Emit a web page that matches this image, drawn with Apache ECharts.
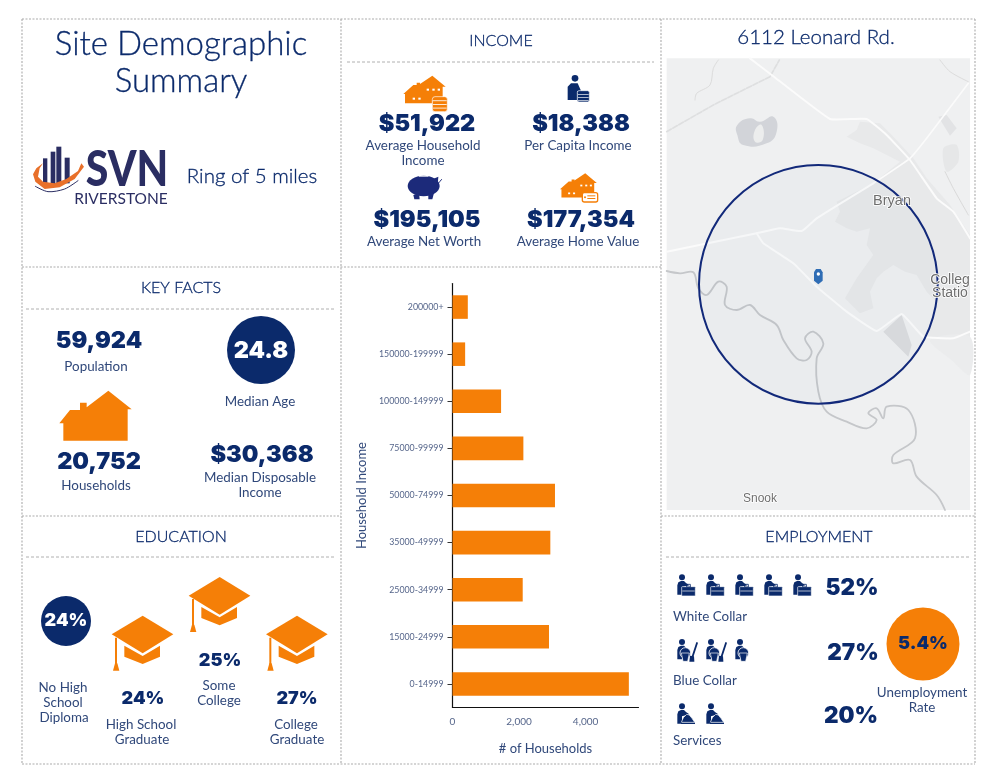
<!DOCTYPE html>
<html><head><meta charset="utf-8">
<style>html,body{margin:0;padding:0;background:#fff}#c{width:1000px;height:773px}</style>
<script src="https://cdn.jsdelivr.net/npm/echarts@6/dist/echarts.min.js"></script>
</head><body><div id="c"></div>
<script>
const incomeBands = ['0-14999','15000-24999','25000-34999','35000-49999','50000-74999','75000-99999','100000-149999','150000-199999','200000+'];
const households = [5300,2900,2110,2940,3080,2130,1460,380,460];
const keyFacts = ['59,924','20,752','24.8','$30,368'];
const incomeStats = ['$51,922','$18,388','$195,105','$177,354'];
const educationShares = ['24%','24%','25%','27%'];
const employmentShares = ['52%','27%','20%','5.4%'];

const NAVY='#0b2a6b', LABEL='#30487a', ORANGE='#f57f07', SANS='Lato', HEAVY='Inter';
const g=[];
const T=(text,x,y,size,o={})=>({type:'text',z:5,silent:true,style:Object.assign({text,x,y,fill:LABEL,fontFamily:SANS,fontSize:size,fontWeight:400,align:'center',verticalAlign:'middle',textAlign:'center',textVerticalAlign:'middle'},o)});
const H=(text,x,y,size,o={})=>T(text,x,y,size,Object.assign({fill:NAVY,fontWeight:300,stroke:NAVY,lineWidth:0.3},o));
const B=(text,x,y,size,o={})=>T(text,x,y,size,Object.assign({fill:NAVY,fontFamily:HEAVY,fontWeight:900},o));
const L=(a,b,c,d,o={})=>({type:'line',z:4,silent:true,shape:{x1:a,y1:b,x2:c,y2:d},style:Object.assign({stroke:'#aaa',lineWidth:1,lineDash:[2,2]},o)});
const poly=(pts,fill,o={},smooth=0)=>({type:'polygon',shape:{points:pts,smooth},style:Object.assign({fill},o)});
const line=(pts,stroke,w,o={})=>({type:'polyline',shape:{points:pts,smooth:o.smooth===undefined?0.3:o.smooth},style:Object.assign({stroke,lineWidth:w,fill:null,lineCap:'round',lineJoin:'round'},o.style||{})});
const circ=(cx,cy,r,fill,o={})=>({type:'circle',shape:{cx,cy,r},style:Object.assign({fill},o)});
const rect=(x,y,width,height,fill,o={},r=0)=>({type:'rect',shape:{x,y,width,height,r},style:Object.assign({fill},o)});
const G=(ox,oy,children,s=1/3)=>({type:'group',x:ox,y:oy,scaleX:s,scaleY:s,z:3,silent:true,children});

// panel outlines
[[22,19,975,19],[22,267,661,267],[22,516,341,516],[661,516,975,516],[22,764,975,764],[22,19,22,764],[341,19,341,764],[661,19,661,764],[975,19,975,764]]
 .forEach(p=>g.push(L(...p,{stroke:'#ababab',lineWidth:1.1,lineDash:[2,1.5]})));
[[347,62,654,62],[26,309,336,309],[26,557,336,557],[666,557,970,557]].forEach(p=>g.push(L(...p,{stroke:'#b0b0b0',lineDash:[3,2]})));

// headings
g.push(H('Site Demographic',181,44,33),H('Summary',181,81,33),H('Ring of 5 miles',252,176,20.5));
g.push(H('INCOME',501,41,16),H('KEY FACTS',181,288,16),H('EDUCATION',181,537,16),H('EMPLOYMENT',819,537,16),H('6112 Leonard Rd.',816,37,20.5));

// logo
const LOGO='#2a2d62';
g.push(G(28,135,[
 rect(45,70,13,75,LOGO),rect(68,50,14,100,LOGO),rect(85,35,15,115,LOGO),rect(110,68,15,77,LOGO),
 poly([[15,118],[22,140],[50,162],[95,157],[140,132],[168,95],[160,85],[150,108],[115,132],[80,145],[45,140],[30,125],[35,100],[45,85],[25,100]],'#e8702a'),
 line([[22,154],[60,170],[110,162],[150,137]],LOGO,3)
]));
g.push({type:'group',x:127,y:170,scaleX:0.82,scaleY:1,z:5,silent:true,children:[T('SVN',0,0,50,{fill:LOGO,fontWeight:900})]});
g.push(T('RIVERSTONE',121,199,15.5,{fill:LOGO}));

// key facts
const B1=23.5, LB=13.4;
g.push(B(keyFacts[0],99,341,B1),T('Population',96,367,LB));
g.push(circ(261,350,34,NAVY),B(keyFacts[2],261,351,23.5,{fill:'#fff'}),T('Median Age',260,402,LB));
g.push(G(20,270,[poly([[118,460],[150,420],[180,420],[180,398],[200,398],[200,412],[265,362],[335,418],[323,418],[323,512],[130,512],[130,460]],ORANGE)]));
g.push(B(keyFacts[1],99,462,B1),T('Households',96,486,LB));
g.push(B(keyFacts[3],262,455,B1),T('Median Disposable',260,478,LB),T('Income',260,493,LB));

// income icons
const housePts=[[175,222],[205,195],[215,195],[215,188],[225,188],[225,192],[262,167],[302,200],[293,200],[293,240],[262,240],[262,250],[180,250],[180,222]];
const dots=[[245,206],[262,206],[278,206],[203,233],[220,233]].map(p=>rect(p[0],p[1],7,6,'#fff'));
g.push(G(345,20,[poly(housePts,ORANGE),...dots,
 rect(262,230,45,45,ORANGE,{stroke:'#fff',lineWidth:2},8),
 ...[241,252,263].map(y=>rect(264,y,41,2.5,'#fff')),
 circ(690,175,10,NAVY),poly([[668,200],[678,190],[698,190],[708,212],[697,214],[697,240],[668,240]],NAVY),
 rect(697,212,36,34,NAVY,{stroke:'#fff',lineWidth:2},5),...[222,231,240].map(y=>rect(699,y,32,2,'#fff')),
 {type:'ellipse',shape:{cx:236,cy:498,rx:48,ry:31},style:{fill:'#1c2a7a'}},
 poly([[205,525],[222,520],[224,538],[208,538]],'#1c2a7a'),poly([[250,520],[268,515],[262,538],[250,538]],'#1c2a7a'),
 poly([[262,478],[280,470],[278,495],[270,505]],'#1c2a7a'),line([[280,490],[290,478]],'#1c2a7a',3),
 rect(222,467,28,3,'#fff')
]));
const houseScale=0.87;
g.push({type:'group',x:345+645/3-175*houseScale/3,y:20+460/3-167*houseScale/3,scaleX:houseScale/3,scaleY:houseScale/3,z:3,silent:true,children:[poly(housePts,ORANGE),...dots]});
g.push(G(345,20,[rect(712,518,46,28,'#fff',{stroke:ORANGE,lineWidth:4},6),rect(727,526,24,3,ORANGE),rect(727,534,24,3,ORANGE),circ(720,532,3,ORANGE)]));
g.push(B(incomeStats[0],427,124,B1),T('Average Household',423,146,LB),T('Income',423,161,LB));
g.push(B(incomeStats[1],581,124,B1),T('Per Capita Income',578,146,LB));
g.push(B(incomeStats[2],427,220,B1),T('Average Net Worth',424,242,LB));
g.push(B(incomeStats[3],581,220,B1),T('Average Home Value',578,242,LB));

// education
g.push(circ(66,621,25,NAVY),B(educationShares[0],66,621,18,{fill:'#fff'}));
const cap=(dx,dy)=>G(20+dx/3,515+dy/3,[
 poly([[368,302],[460,358],[368,415],[275,358]],ORANGE),
 poly([[313,392],[368,423],[420,392],[420,425],[368,447],[313,425]],ORANGE),
 rect(285,368,6,80,ORANGE),poly([[285,445],[292,445],[298,467],[279,467]],ORANGE)
]);
g.push(cap(0,0),cap(231,-116),cap(463,0));
g.push(T('No High',63,688,LB),T('School',63,703,LB),T('Diploma',64,718,LB));
g.push(B(educationShares[1],143,699,18),T('High School',141,725,LB),T('Graduate',142,740,LB));
g.push(B(educationShares[2],220,661,18),T('Some',219,686,LB),T('College',219,701,LB));
g.push(B(educationShares[3],297,699,18),T('College',296,725,LB),T('Graduate',297,740,LB));

// employment icons
const person=(x,y)=>[circ(x+14,y,9,NAVY),poly([[x,y+52],[x,y+24],[x+3,y+15],[x+11,y+11],[x+20,y+11],[x+26,y+17],[x+36,y+24],[x+14,y+30],[x+14,y+52]],NAVY)];
const white=x=>[...person(x,187),rect(x+13,215,41,28,NAVY,{stroke:'#fff',lineWidth:2},2),rect(x+15,227,37,2,'#fff'),rect(x+28,208,11,8,'rgba(0,0,0,0)',{stroke:NAVY,lineWidth:2.5})];
const blue=(x,full)=>[...person(x,381),
  circ(x+24,414,16,NAVY,{stroke:'#fff',lineWidth:2.5}),
  poly([[x+12,414],[x+36,414],[x+31,439],[x+17,439]],NAVY,{stroke:'#fff',lineWidth:2}),
  ...(full?[line([[x+59,384],[x+46,424]],NAVY,5.5,{smooth:0}),poly([[x+38,422],[x+50,424],[x+51,440],[x+36,440]],NAVY)]:[])];
const serv=x=>[...person(x,574),poly([[x+12,622],[x+18,608],[x+28,598],[x+36,600],[x+44,610],[x+52,622]],NAVY,{stroke:'#fff',lineWidth:2}),rect(x+11,623,42,4,NAVY)];
g.push(G(660,515,[...[52,139,226,313,400].flatMap(white),...blue(52,true),...blue(139,true),...blue(226,false),...serv(52),...serv(139)]));
g.push(B(employmentShares[0],852,588,22.5),B(employmentShares[1],853,653,22.5),B(employmentShares[2],851,716,22.5));
g.push(T('White Collar',673,617,LB,{align:'left',textAlign:'left'}),T('Blue Collar',673,681,LB,{align:'left',textAlign:'left'}),T('Services',673,741,LB,{align:'left',textAlign:'left'}));
g.push(circ(923,644,36.5,ORANGE),B(employmentShares[3],923,644,18),T('Unemployment',922,693,LB),T('Rate',922,708,LB));

// base map (pale reference shapes, drawn in zoom-crop space)
const W='#fbfbfb';
g.push(G(660,15,[
 rect(20,130,910,1355,'#eff0f1'),
 poly([[560,365],[590,345],[600,320],[660,325],[685,350],[700,365],[760,430],[800,490],[870,570],[930,660],[930,970],[800,970],[830,860],[800,830],[770,780],[735,770],[700,750],[670,770],[650,790],[630,830],[640,880],[600,895],[555,850],[575,815],[590,790],[640,720],[620,690],[630,640],[590,650],[560,640],[525,620],[540,590],[530,560],[640,505],[720,440],[680,420],[640,400],[600,385]],'#e8e9ea'),
 poly([[810,975],[930,965],[930,1080],[880,1040]],'#ebeced',{},0.3),
 poly([[835,305],[860,300],[890,340],[870,362]],'#e2e3e5'),poly([[850,400],[890,390],[895,440],[860,470]],'#e6e7e8',{},0.3),
 poly([[232,330],[270,310],[300,320],[340,305],[350,350],[320,385],[250,390],[232,360]],'#d2d4d9',{},0.5),
 poly([[285,345],[305,330],[308,375],[285,380]],'#eceded',{},0.5),
 poly([[670,950],[725,900],[755,990],[745,1025],[700,980]],'#dcdddf'),
 line([[20,350],[160,270],[330,185],[358,135]],'#dedfe0',5,{style:{lineDash:[16,5]},smooth:0}),
 line([[105,255],[110,235],[150,210],[160,160],[175,135]],'#dcdcdc',3),
 line([[840,135],[870,170],[925,200]],'#dcdcdc',3),
 line([[855,470],[880,520],[925,600]],'#d9d9d9',3),
 line([[20,768],[60,775],[100,772],[115,820],[140,840],[175,800],[200,815],[195,870],[230,885],[270,870],[300,900],[350,930],[370,975],[410,1030],[440,1035],[455,1010],[435,970],[460,950],[490,985],[470,1030],[475,1130],[500,1190],[560,1220],[620,1240],[650,1215],[625,1195],[650,1180],[670,1210],[680,1175],[745,1185],[765,1270],[700,1320],[700,1345],[750,1335],[770,1385],[830,1440],[855,1485]],'#c5c7ca',5.5,{smooth:0.35}),
 line([[270,130],[335,180],[510,312],[620,312],[680,360],[750,435],[830,550],[880,590],[930,670]],W,6,{smooth:0.1}),
 line([[640,505],[750,430],[800,370],[925,205]],W,5,{smooth:0.1}),
 line([[20,710],[290,655],[360,640],[425,648],[470,610],[640,505]],W,6,{smooth:0.15}),
 line([[290,655],[310,685],[400,745],[470,815],[560,890],[650,948],[725,897],[790,965],[880,970],[930,950]],W,6,{smooth:0.1}),
 {type:'circle',shape:{cx:475,cy:808,r:358},style:{fill:'rgba(60,70,110,0.025)',stroke:'#12297a',lineWidth:6}},
 poly([[462,772],[468,762],[482,762],[488,772],[488,797],[475,808],[462,797]],'#2f6db5'),circ(475,777,5,'#fff')
]));
const mapFont={fill:'#6e6e6e',fontFamily:'Liberation Sans',stroke:'#fff',lineWidth:1.5};
g.push(T('Bryan',892,201,14.5,mapFont),T('Colleg',950,280,14,mapFont),T('Statio',950,293,14,mapFont),T('Snook',760,499,12,mapFont));

const chart=echarts.init(document.getElementById('c'),null,{renderer:'canvas'});
chart.setOption({
 animation:false,
 backgroundColor:'#fff',
 grid:{left:452.5,top:283.5,width:186,height:424,containLabel:false},
 xAxis:{type:'value',min:0,max:5590,interval:2000,name:'# of Households',nameLocation:'middle',nameGap:35,
  nameTextStyle:{color:LABEL,fontFamily:SANS,fontSize:13},
  axisLine:{show:true,onZero:false,lineStyle:{color:'#111',width:1.2}},axisTick:{show:false},splitLine:{show:false},
  axisLabel:{color:'#55658a',fontFamily:SANS,fontSize:10,margin:9,showMaxLabel:false}},
 yAxis:{type:'category',data:incomeBands,name:'Household Income',nameLocation:'middle',nameGap:84,
  nameTextStyle:{color:LABEL,fontFamily:SANS,fontSize:13},
  axisLine:{show:true,lineStyle:{color:'#111',width:1.2}},axisTick:{show:true,alignWithLabel:true,length:5,lineStyle:{color:'#333'}},
  axisLabel:{color:'#55658a',fontFamily:SANS,fontSize:8.8,margin:9,interval:0}},
 series:[{type:'bar',data:households,barWidth:'50%',itemStyle:{color:ORANGE}}],
 graphic:{elements:g}
});
</script></body></html>
